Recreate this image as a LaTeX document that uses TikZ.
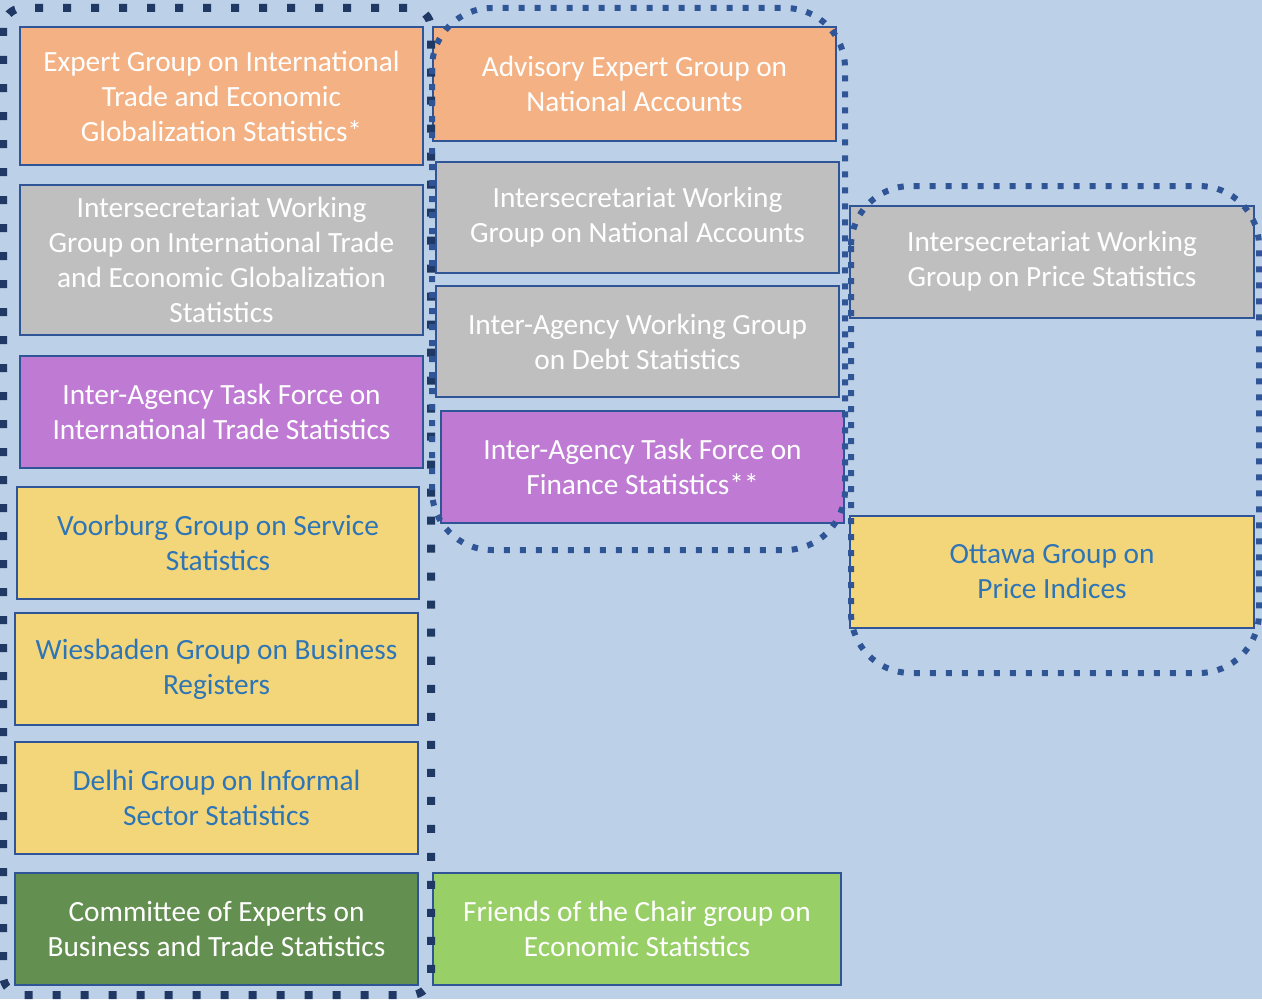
\documentclass[tikz,border=0pt]{standalone}
\usepackage{fontspec}
\setmainfont{Carlito}
\usepackage[]{xcolor}
\usepackage[]{tikz}
\usetikzlibrary{positioning}
\definecolor{bgblue}{HTML}{BCD0E8}
\definecolor{edgeblue}{HTML}{2F5597}
\definecolor{navy}{HTML}{203864}
\definecolor{txtblue}{HTML}{2E75B6}
\definecolor{grporange}{HTML}{F4B183}
\definecolor{grpgrey}{HTML}{BFBFBF}
\definecolor{grppurple}{HTML}{BF7BD3}
\definecolor{grpyellow}{HTML}{F4D67A}
\definecolor{grpdkgreen}{HTML}{638F50}
\definecolor{grpltgreen}{HTML}{98CF67}
\tikzset{grp/.style={draw=edgeblue,line width=1.5pt,align=center,inner sep=0pt,
    font=\fontsize{22}{26.3}\selectfont,minimum width=302pt,minimum height=84pt},
  whitetxt/.style={text=white},
  bluetxt/.style={text=txtblue,fill=grpyellow},
  bigloop/.style={draw=navy,line width=6pt,dash pattern=on 6pt off 15pt,rounded corners=15pt},
  smallloop/.style={draw=edgeblue,line width=4.5pt,dash pattern=on 4.5pt off 7.5pt,rounded corners=45pt}}

\begin{document}
\begin{tikzpicture}[x=0.75pt,y=-0.75pt]
            \useasboundingbox[fill=bgblue] (0,0) rectangle (1262,999);
            % left column
            \node (expert) [grp,whitetxt,fill=grporange,minimum height=103.5pt] at (221.5,96) {Expert Group on International\\Trade and Economic\\Globalization Statistics*};
            \node (iswgiteg) [grp,whitetxt,fill=grpgrey,minimum height=112.5pt] at (221.5,260) {Intersecretariat Working\\Group on International Trade\\and Economic Globalization\\Statistics};
            \node (iatfits) [grp,whitetxt,fill=grppurple] at (221.5,411.5) {Inter-Agency Task Force on\\International Trade Statistics};
            \node (voorburg) [grp,bluetxt] at (218,543) {Voorburg Group on Service\\Statistics};
            \node (wiesbaden) [grp,bluetxt] at (216.5,669) {Wiesbaden Group on Business\\Registers};
            \node (delhi) [grp,bluetxt] at (216.5,798) {Delhi Group on Informal\\Sector Statistics};
            \node (committee) [grp,whitetxt,fill=grpdkgreen] at (216.5,929) {Committee of Experts on\\Business and Trade Statistics};
            % middle column
            \node (aegna) [grp,whitetxt,fill=grporange,minimum height=85.5pt] at (634.5,84) {Advisory Expert Group on\\National Accounts};
            \node (iswgna) [grp,whitetxt,fill=grpgrey,minimum height=83pt] at (637.5,217.5) {Intersecretariat Working\\Group on National Accounts};
            \node (iawgds) [grp,whitetxt,fill=grpgrey,minimum height=83pt] at (637.5,341.5) {Inter-Agency Working Group\\on Debt Statistics};
            \node (iatffs) [grp,whitetxt,fill=grppurple] at (642.5,467) {Inter-Agency Task Force on\\Finance Statistics**};
            \node (fotc) [grp,whitetxt,fill=grpltgreen,minimum width=306pt] at (637,929) {Friends of the Chair group on\\Economic Statistics};
            % right column
            \node (iswgps) [grp,whitetxt,fill=grpgrey,minimum width=303pt] at (1052,261.5) {Intersecretariat Working\\Group on Price Statistics};
            \node (ottawa) [grp,bluetxt,minimum width=303pt] at (1052,572) {Ottawa Group on\\Price Indices};
            % dotted groupings
            \draw[bigloop] (3,8) rectangle (431,995);
            \draw[smallloop] (432,8) rectangle (845,550);
            \draw[smallloop] (851,186) rectangle (1259,673);
        \end{tikzpicture}
\end{document}
